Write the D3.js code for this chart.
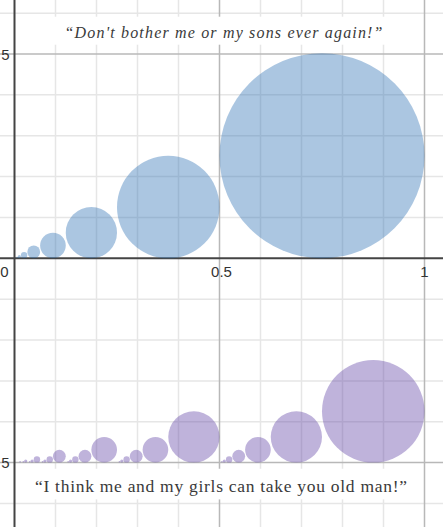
<!DOCTYPE html>
<html>
<head>
<meta charset="utf-8">
<script src="https://cdn.jsdelivr.net/npm/d3@7"></script>
<style>
  html, body { margin: 0; padding: 0; background: #fff; overflow: hidden; }
  svg { display: block; }
</style>
</head>
<body>
<svg id="chart" width="443" height="527"></svg>
<script>
// ---- data ----
const xTickValues = [0, 0.5, 1];
const xTickLabels = ["0", "0.5", "1"];
const yTickValues = [5, -5];
const yTickLabels = ["5", "5"];   // the minus of the lower label falls outside the view

// top series ("sons"): circle centres and radii (x units), resting on y = 0
const sonsX = [0.75, 0.375, 0.1875, 0.09375, 0.046875, 0.0234375, 0.01171875, 0.005859375];
const sonsR = [0.25, 0.125, 0.0625, 0.03125, 0.015625, 0.0078125, 0.00390625, 0.001953125];

// bottom series ("girls"): circle centres and radii (x units), resting on y = -5
const girlsX = [0.875, 0.6875, 0.59375, 0.546875, 0.5234375, 0.51171875, 0.505859375,
                0.4375, 0.34375, 0.296875, 0.2734375, 0.26171875, 0.255859375,
                0.21875, 0.171875, 0.1484375, 0.13671875, 0.130859375,
                0.109375, 0.0859375, 0.07421875, 0.068359375,
                0.0546875, 0.04296875, 0.037109375,
                0.02734375, 0.021484375,
                0.013671875];
const girlsR = [0.125, 0.0625, 0.03125, 0.015625, 0.0078125, 0.00390625, 0.001953125,
               0.0625, 0.03125, 0.015625, 0.0078125, 0.00390625, 0.001953125,
               0.03125, 0.015625, 0.0078125, 0.00390625, 0.001953125,
               0.015625, 0.0078125, 0.00390625, 0.001953125,
               0.0078125, 0.00390625, 0.001953125,
               0.00390625, 0.001953125,
               0.001953125];

const sonsBase = 0;
const girlsBase = -5;

const topQuote = "\u201CDon't bother me or my sons ever again!\u201D";
const bottomQuote = "\u201CI think me and my girls can take you old man!\u201D";

// ---- layout ----
const W = 443, H = 527;
const x = d3.scaleLinear().domain([0, 1]).range([14.5, 424.5]);
const y = d3.scaleLinear().domain([-5, 5]).range([462.6, 54]);

const svg = d3.select("#chart");
svg.append("rect").attr("width", W).attr("height", H).attr("fill", "#fff");

const xMin = x.invert(0), xMax = x.invert(W);
const yMin = y.invert(H), yMax = y.invert(0);

// minor grid
const minorX = d3.range(Math.ceil(xMin * 10), Math.floor(xMax * 10) + 1).map(d => d / 10);
const minorY = d3.range(Math.ceil(yMin), Math.floor(yMax) + 1);

const grid = svg.append("g");
grid.selectAll(".vx").data(minorX.filter(d => Math.abs(d * 2 - Math.round(d * 2)) > 1e-9))
  .join("line")
  .attr("x1", d => x(d)).attr("x2", d => x(d)).attr("y1", 0).attr("y2", H)
  .attr("stroke", "#e6e6e6").attr("stroke-width", 1.5);
grid.selectAll(".hy").data(minorY.filter(d => d % 5 !== 0))
  .join("line")
  .attr("y1", d => y(d)).attr("y2", d => y(d)).attr("x1", 0).attr("x2", W)
  .attr("stroke", "#e6e6e6").attr("stroke-width", 1.5);

// major grid
grid.selectAll(".mx").data(xTickValues.filter(d => d !== 0))
  .join("line")
  .attr("x1", d => x(d)).attr("x2", d => x(d)).attr("y1", 0).attr("y2", H)
  .attr("stroke", "#b8b8b8").attr("stroke-width", 1.5);
grid.selectAll(".my").data(yTickValues)
  .join("line")
  .attr("y1", d => y(d)).attr("y2", d => y(d)).attr("x1", 0).attr("x2", W)
  .attr("stroke", "#b8b8b8").attr("stroke-width", 1.5);

// axes
svg.append("line").attr("x1", x(0)).attr("x2", x(0)).attr("y1", 0).attr("y2", H)
  .attr("stroke", "#444").attr("stroke-width", 2);
svg.append("line").attr("y1", y(0)).attr("y2", y(0)).attr("x1", 0).attr("x2", W)
  .attr("stroke", "#444").attr("stroke-width", 2);

// circles
const rpx = r => x(r) - x(0);
svg.append("g").selectAll("circle").data(sonsX.map((c, i) => ({c, r: sonsR[i]})))
  .join("circle")
  .attr("cx", d => x(d.c))
  .attr("cy", d => y(sonsBase) - rpx(d.r))
  .attr("r", d => rpx(d.r))
  .attr("fill", "#2d70b3").attr("fill-opacity", 0.4);

svg.append("g").selectAll("circle").data(girlsX.map((c, i) => ({c, r: girlsR[i]})))
  .join("circle")
  .attr("cx", d => x(d.c))
  .attr("cy", d => y(girlsBase) - rpx(d.r))
  .attr("r", d => rpx(d.r))
  .attr("fill", "#6042a6").attr("fill-opacity", 0.4);

// tick labels
const lab = svg.append("g").attr("font-family", "'Liberation Sans', Arial, sans-serif")
  .attr("font-size", 15).attr("fill", "#333");
lab.selectAll(".xl").data(xTickValues)
  .join("text")
  .attr("x", (d, i) => d === 0 ? x(0) - 10 : x(d) + (i === 1 ? 2 : 0))
  .attr("y", y(0) + 19)
  .attr("text-anchor", "middle")
  .text((d, i) => xTickLabels[i]);
lab.selectAll(".yl").data(yTickValues)
  .join("text")
  .attr("x", x(0) - 5)
  .attr("y", d => y(d) + 5.5)
  .attr("text-anchor", "end")
  .text((d, i) => yTickLabels[i]);

// quotes with white boxes
function quote(txt, cx, baseline, size, italic, width) {
  const g = svg.append("g");
  const rect = g.append("rect").attr("fill", "#fff");
  g.append("text")
    .attr("x", cx).attr("y", baseline)
    .attr("text-anchor", "middle")
    .attr("font-family", "'Liberation Serif', 'DejaVu Serif', serif")
    .attr("font-size", size)
    .attr("font-style", italic ? "italic" : "normal")
    .attr("fill", "#3a3a3a")
    .attr("textLength", width)
    .attr("lengthAdjust", "spacing")
    .text(txt);
  const pad = 12;
  rect.attr("x", cx - width / 2 - pad).attr("width", width + 2 * pad)
      .attr("y", baseline - size * 1.3).attr("height", size * 1.75);
}
quote(topQuote, 223.5, 37.5, 16, true, 318);
quote(bottomQuote, 221, 491.5, 17.5, false, 372);
</script>
</body>
</html>
